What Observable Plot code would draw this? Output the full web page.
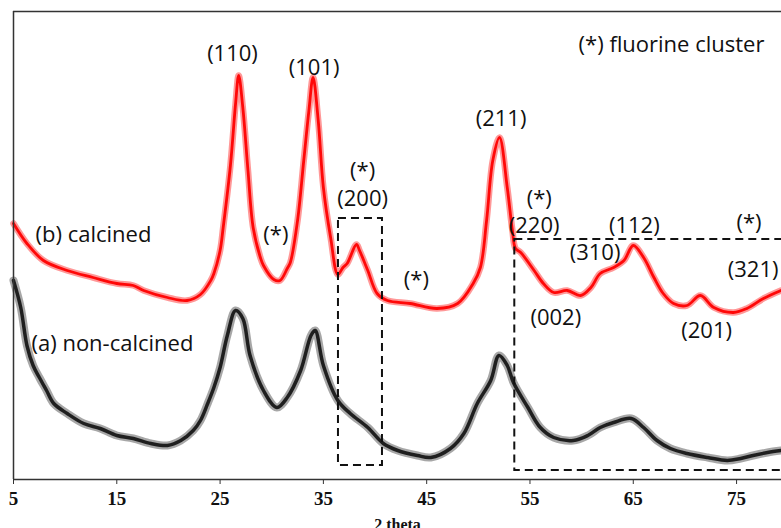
<!DOCTYPE html>
<html>
<head>
<meta charset="utf-8">
<script src="https://cdn.jsdelivr.net/npm/d3@7"></script>
<script src="https://cdn.jsdelivr.net/npm/@observablehq/plot@0.6"></script>
<style>
  html, body { margin: 0; padding: 0; background: #fff; }
  #chart svg { display: block; }
  #chart svg g[aria-label="x-axis tick label"] text {
    font-family: 'Liberation Serif', 'DejaVu Serif', serif;
    font-size: 19px;
    font-weight: bold;
  }
</style>
</head>
<body>
<div id="chart"></div>
<script>
// ---- data (intensity in arbitrary units) ----
const calcinedTheta = [5.0,6.3,7.9,10.2,12.7,15.0,16.6,17.6,19.9,21.8,23.1,24.1,24.4,25.0,25.3,26.0,26.5,26.8,27.2,27.7,28.2,28.9,29.2,30.2,30.8,31.5,31.8,32.5,33.1,33.6,34.0,34.5,35.0,35.7,36.4,36.9,37.3,38.2,38.5,39.3,40.2,41.2,43.4,46.0,48.0,49.5,50.2,50.8,51.4,52.05,52.8,53.3,53.6,54.1,55.4,56.3,57.3,58.6,59.9,60.9,61.8,63.1,64.1,65.0,66.0,67.0,67.9,68.9,70.2,71.5,72.8,74.7,76.0,77.6,79.3];
const calcinedI = [256,236,219,209,202,196,194,189,182,179,185,199,206,229,252,314,376,404,372,309,252,222,214,200,199,211,217,259,319,369,402,359,292,242,205,212,216,235,229,209,186,179,176,171,176,196,212,259,319,342,292,249,231,227,209,196,187,189,184,192,206,212,219,234,222,202,186,176,174,184,172,167,171,181,189];

const nonCalcinedTheta = [5.0,5.7,6.3,6.9,7.5,8.2,8.9,10.2,11.8,13.4,15.0,16.6,18.3,19.9,21.2,22.4,23.1,23.8,24.4,25.0,25.7,26.5,27.2,27.9,29.2,30.5,31.5,32.8,33.8,34.2,35.0,36.4,37.6,39.3,40.8,42.2,44.1,45.4,47.3,48.6,49.9,51.2,52.0,52.8,53.4,54.8,56.0,57.3,59.2,60.6,61.8,63.1,64.8,66.0,67.3,68.6,70.2,72.2,74.1,75.4,76.6,78.0,79.3];
const nonCalcinedI = [199,172,134,114,102,89,76,66,56,51,44,41,36,34,39,49,59,76,92,112,144,169,161,124,89,72,82,109,144,149,114,79,66,52,36,29,24,22,31,46,76,99,124,114,97,72,52,42,39,44,52,57,61,52,39,31,26,22,19,21,24,27,29];

const xTicks = [5, 15, 25, 35, 45, 55, 65, 75];

// peak / annotation labels (centered)
const peakText = ["(110)","(101)","(211)","(*) fluorine cluster","(*)","(200)","(*)","(*)","(*)","(220)","(112)","(310)","(*)","(321)","(002)","(201)"];
const peakTheta = [26.2,34.1,52.2,68.7,38.8,38.8,30.4,44.0,55.9,55.4,65.1,61.3,76.2,76.6,57.5,72.1];
const peakI =     [426, 412, 361, 435, 309, 281, 245, 200, 281, 254, 254, 227, 257, 210, 162, 149];

// series labels (left aligned)
const seriesText = ["(b) calcined", "(a) non-calcined"];
const seriesTheta = [7.13, 6.74];
const seriesI = [245, 136];

// dashed highlight boxes
const boxX1 = [36.46, 53.53];
const boxX2 = [40.72, 81];
const boxY1 = [14, 9];
const boxY2 = [261, 240];

// ---- build tables ----
const calcined = calcinedTheta.map((t, i) => ({theta: t, I: calcinedI[i]}));
const nonCalcined = nonCalcinedTheta.map((t, i) => ({theta: t, I: nonCalcinedI[i]}));
const peaks = peakText.map((s, i) => ({text: s, theta: peakTheta[i], I: peakI[i]}));
const seriesLabels = seriesText.map((s, i) => ({text: s, theta: seriesTheta[i], I: seriesI[i]}));
const boxes = boxX1.map((x1, i) => ({x1, x2: boxX2[i], y1: boxY1[i], y2: boxY2[i]}));

const labelFont = "'Open Sans', 'Noto Sans', sans-serif";

const chart = Plot.plot({
  width: 781,
  height: 528,
  marginLeft: 13,
  marginRight: 0,
  marginTop: 11,
  marginBottom: 49,
  x: {domain: [5, 79.35]},
  y: {domain: [0, 468], axis: null},
  marks: [
    // noisy band (halo) + core for each trace
    Plot.line(nonCalcined, {x: "theta", y: "I", stroke: "#222", strokeWidth: 8, strokeOpacity: 0.4, curve: "catmull-rom"}),
    Plot.line(nonCalcined, {x: "theta", y: "I", stroke: "#111", strokeWidth: 3.5, strokeOpacity: 0.9, curve: "catmull-rom"}),
    Plot.line(calcined, {x: "theta", y: "I", stroke: "#ff1a1a", strokeWidth: 6.5, strokeOpacity: 0.45, curve: "catmull-rom"}),
    Plot.line(calcined, {x: "theta", y: "I", stroke: "#ff0000", strokeWidth: 2.8, strokeOpacity: 0.95, curve: "catmull-rom"}),
    Plot.rect(boxes, {x1: "x1", x2: "x2", y1: "y1", y2: "y2", fill: "none", stroke: "#111", strokeWidth: 2, strokeDasharray: "8,5", clip: "frame"}),
    Plot.text(peaks, {x: "theta", y: "I", text: "text", fontFamily: labelFont, fontSize: 22, fill: "#111"}),
    Plot.text(seriesLabels, {x: "theta", y: "I", text: "text", textAnchor: "start", fontFamily: labelFont, fontSize: 22, fill: "#111"}),
    Plot.ruleY([0], {stroke: "#333", strokeWidth: 1.5}),
    Plot.ruleY([468], {stroke: "#333", strokeWidth: 1.5}),
    Plot.ruleX([5], {stroke: "#333", strokeWidth: 1.5}),
    Plot.axisX({ticks: xTicks, tickSize: 5, tickPadding: 7, label: null, stroke: "#333", fill: "#111"}),
    Plot.text(["2 theta"], {frameAnchor: "bottom", dy: 39, lineAnchor: "top",
      fontFamily: "'Liberation Serif', serif", fontSize: 16, fontWeight: "bold", fill: "#111"})
  ]
});
document.getElementById("chart").appendChild(chart);
</script>
</body>
</html>
